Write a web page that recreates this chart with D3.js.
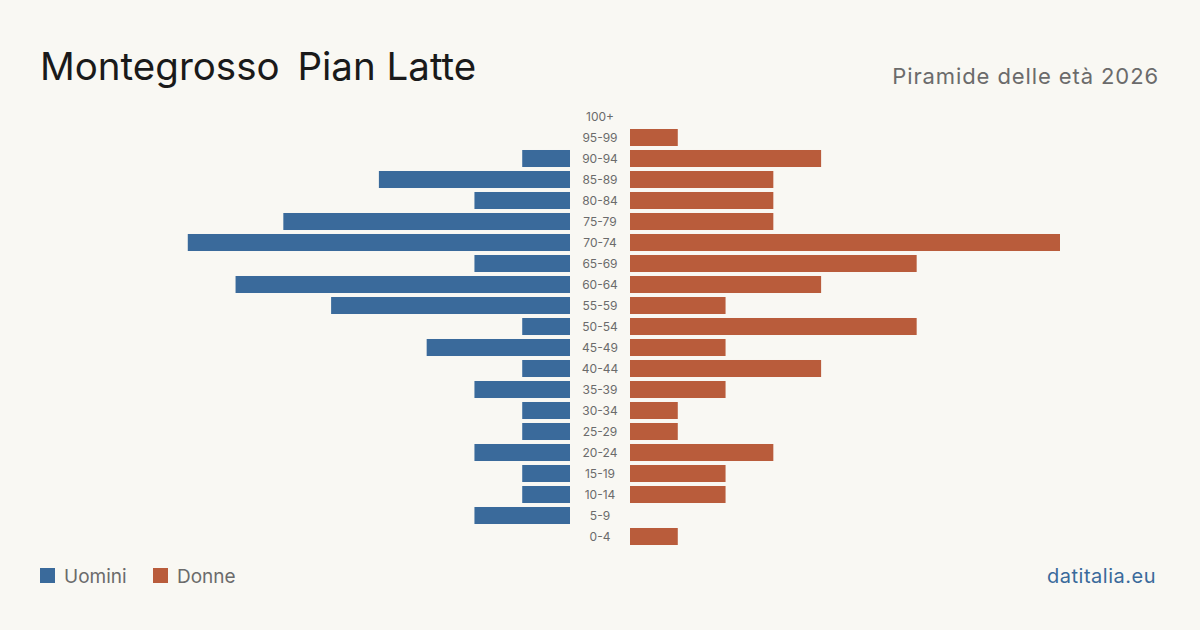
<!DOCTYPE html>
<html>
<head>
<meta charset="utf-8">
<script src="https://cdn.jsdelivr.net/npm/d3@7"></script>
<style>
  body { margin: 0; background: #f9f8f3; }
  svg { display: block; font-family: Inter, "Noto Sans", sans-serif; }
</style>
</head>
<body>
<div id="chart"></div>
<script>

// Age classes, top to bottom
var ageGroups = ["100+", "95-99", "90-94", "85-89", "80-84", "75-79", "70-74", "65-69", "60-64", "55-59",
    "50-54", "45-49", "40-44", "35-39", "30-34", "25-29", "20-24", "15-19", "10-14", "5-9", "0-4"];

var men   = [0, 0, 1, 4, 2, 6, 8, 2, 7, 5, 1, 3, 1, 2, 1, 1, 2, 1, 1, 2, 0];
var women = [0, 1, 4, 3, 3, 3, 9, 6, 4, 2, 6, 2, 4, 2, 1, 1, 3, 2, 2, 0, 1];

var legendLabels = ["Uomini", "Donne"];

var W = 1200, H = 630;
var colMen = "#3a6a9b", colWomen = "#b95c3b";

var svg = d3.select("#chart").append("svg")
    .attr("width", W)
    .attr("height", H);

svg.append("rect").attr("width", W).attr("height", H).attr("fill", "#f9f8f3");

// Title (first word gap is a bit wider in the original)
var title = svg.append("text")
    .attr("x", 40).attr("y", 80)
    .attr("font-size", 38.5)
    .attr("fill", "#1a1a1a");
title.append("tspan").text("Montegrosso ");
title.append("tspan").attr("dx", 7).text("Pian Latte");

svg.append("text")
    .attr("x", 1159).attr("y", 84)
    .attr("text-anchor", "end")
    .attr("font-size", 22)
    .attr("letter-spacing", 0.9)
    .attr("fill", "#6b6b6b")
    .text("Piramide delle età 2026");

// Scales
var x = d3.scaleLinear().domain([0, 9]).range([0, 430]);
var y = d3.scaleBand().domain(ageGroups).range([106, 547]).paddingInner(0.19).paddingOuter(0.095);

var centerL = 570, centerR = 630;

// Men bars (left)
svg.selectAll(".bar-men")
    .data(ageGroups)
    .enter().append("rect")
    .attr("class", "bar-men")
    .attr("x", function(d, i) { return centerL - x(men[i]); })
    .attr("y", function(d) { return y(d); })
    .attr("width", function(d, i) { return x(men[i]); })
    .attr("height", y.bandwidth())
    .attr("fill", colMen);

// Women bars (right)
svg.selectAll(".bar-women")
    .data(ageGroups)
    .enter().append("rect")
    .attr("class", "bar-women")
    .attr("x", centerR)
    .attr("y", function(d) { return y(d); })
    .attr("width", function(d, i) { return x(women[i]); })
    .attr("height", y.bandwidth())
    .attr("fill", colWomen);

// Age labels
svg.selectAll(".age-label")
    .data(ageGroups)
    .enter().append("text")
    .attr("class", "age-label")
    .attr("x", 600)
    .attr("y", function(d) { return y(d) + y.bandwidth() / 2; })
    .attr("dy", "0.35em")
    .attr("text-anchor", "middle")
    .attr("font-size", 12)
    .attr("fill", "#6b6b6b")
    .text(function(d) { return d; });

// Legend
var legend = svg.selectAll(".legend")
    .data(legendLabels)
    .enter().append("g")
    .attr("class", "legend")
    .attr("transform", function(d, i) { return "translate(" + (40 + i * 113) + ",568)"; });

legend.append("rect")
    .attr("width", 15).attr("height", 15)
    .attr("fill", function(d, i) { return i === 0 ? colMen : colWomen; });

legend.append("text")
    .attr("x", 24).attr("y", 15)
    .attr("font-size", 19)
    .attr("fill", "#6b6b6b")
    .text(function(d) { return d; });

// Source
svg.append("text")
    .attr("x", 1156).attr("y", 583)
    .attr("text-anchor", "end")
    .attr("font-size", 20)
    .attr("letter-spacing", 0.5)
    .attr("fill", "#3a6a9b")
    .text("datitalia.eu");

</script>
</body>
</html>
